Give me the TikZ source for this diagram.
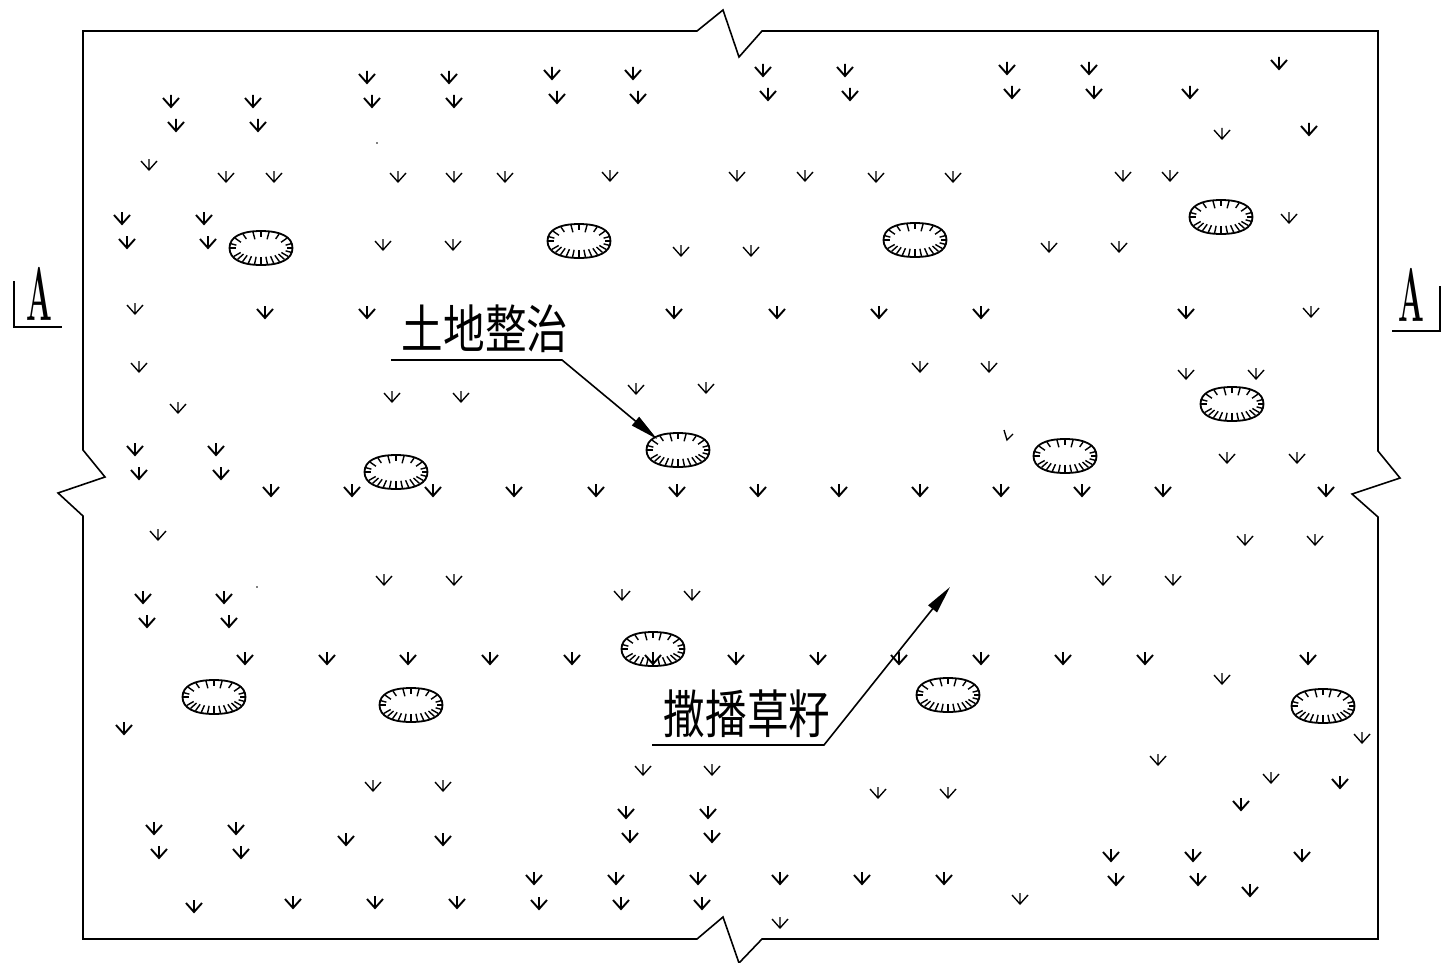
\documentclass[tikz,border=0pt]{standalone}
\usepackage{fontspec}
\newfontfamily\cjk[FakeStretch=0.8]{Noto Sans CJK SC}
\usetikzlibrary{arrows.meta}
\tikzset{
	line_main/.style = {
		draw=black,
		line width=1.6pt
	},
	seed_big/.pic = {
		\draw [line width=1.9pt] (0,-7) -- (0,5) (-8,-4) -- (0,5) -- (8,-4);
	},
	seed_small/.pic = {
		\draw [line width=1.35pt] (0,-6) -- (0,5) (-8,-4) -- (0,5) -- (8,-4);
	},
	pit/.pic = {
		\draw [line width=1.8pt] (-31.5,0) .. controls (-31.5,-11) and (-20,-17) .. (0,-17)
			.. controls (20,-17) and (31.5,-11) .. (31.5,0)
			.. controls (31.5,11) and (20,17) .. (0,17)
			.. controls (-20,17) and (-31.5,11) .. cycle;
		\foreach \a/\l in {-165/6,-145/7,-125/6,-105/8,-90/6,-75/8,-55/6,-35/7,-15/6,0/6,15/6,180/6}
			\draw [line width=1.4pt] ({31.5*cos(\a)},{17*sin(\a)}) -- ({(31.5-\l)*cos(\a)},{(17-\l)*sin(\a)});
		\foreach \a in {30,42,...,150}
			\draw [line width=1.4pt] ({31.5*cos(\a)},{17*sin(\a)}) -- ({(31.5-8)*cos(\a)},{(17-8)*sin(\a)});
	},
	label_cad/.style = {
		font=\cjk\fontsize{52}{52}\selectfont,
		inner sep=0pt,
		anchor=center
	},
	label_sec/.style = {
		font=\bfseries\fontsize{76}{76}\selectfont,
		inner sep=0pt,
		xscale=0.4,
		anchor=center
	},
	lead_arrow/.style = {
		line_main,
		-{Triangle[length=28pt,width=11pt]}
	},
}
\begin{document}
\begin{tikzpicture}[x=1pt,y=-1pt]
\useasboundingbox (0,0) rectangle (1445,963);

\draw [line_main] (83,31) -- (697,31) -- (723,10) -- (739,57) -- (762,31) -- (1378,31)
	-- (1378,451) -- (1400,478) -- (1352,494) -- (1378,517) -- (1378,939)
	-- (762,939) -- (739,963) -- (723,917) -- (697,939) -- (83,939)
	-- (83,516) -- (58,493) -- (105,477) -- (83,450) -- cycle;

\draw [line_main] (14,281) -- (14,327) -- (62,327);
\draw [line_main] (1440,286) -- (1440,331) -- (1392,331);
\node [label_sec] (sec_left) at (39,294) {A};
\node [label_sec] (sec_right) at (1411,295) {A};

\foreach \x/\y in {171/102,253/102,176/126,258/126,367/78,449/78,372/102,454/102,
	552/74,633/74,557/98,638/98,763/71,845/71,768/95,850/95,
	1007/69,1089/69,1012/93,1094/93,1279/64,1190/93,1309/130,
	122/219,204/219,127/243,208/243,
	265/313,367/313,674/313,777/313,879/313,981/313,1186/313,
	135/450,216/450,139/474,221/474,
	271/491,352/491,433/491,514/491,596/491,677/491,758/491,839/491,920/491,1001/491,1082/491,1163/491,1326/491,
	143/598,224/598,147/622,229/622,
	245/659,327/659,408/659,490/659,572/659,653/659,736/659,818/659,899/659,981/659,1063/659,1145/659,1308/659,
	124/729,1340/783,1241/805,626/813,708/813,630/837,712/837,
	154/829,236/829,159/853,241/853,346/840,443/840,
	1111/856,1193/856,1302/856,1116/880,1198/880,1250/891,
	534/879,616/879,698/879,780/879,862/879,944/879,
	539/904,621/904,702/904,293/903,375/903,457/903,194/907}
	\pic at (\x,\y) {seed_big};

\foreach \x/\y in {1222/134,149/165,226/177,274/177,398/177,454/177,505/177,610/176,737/176,805/176,876/177,953/177,1123/176,1170/176,
	383/245,453/245,681/251,751/251,1049/247,1119/247,1289/218,135/309,1311/312,
	139/367,920/367,989/367,1186/374,1256/374,636/389,706/388,392/397,461/397,178/408,
	1227/458,1297/458,158/535,1245/540,1315/540,384/580,454/580,1103/580,1173/580,622/595,692/595,
	1222/679,1362/738,1158/760,643/770,712/770,1271/778,373/786,443/786,878/793,948/793,
	1020/899,780/923}
	\pic at (\x,\y) {seed_small};

\draw [line width=1.35pt] (1004,430) -- (1007,440) -- (1013,434);
\fill (377,143) circle (0.9);
\fill (257,587) circle (0.9);

\foreach \x/\y in {261/248,579/241,915/240,1221/217,1232/404,1065/456,678/450,396/472,653/649,214/697,411/705,948/695,1323/706}
	\pic at (\x,\y) {pit};

\node [label_cad] (label_soil) at (485,329) {土地整治};
\node [label_cad] (label_sow) at (747,714) {撒播草籽};

\coordinate (lead_soil_a) at (391,360);
\coordinate (lead_soil_b) at (562,360);
\coordinate (lead_soil_c) at (657,439);
\coordinate (lead_sow_a) at (652,745);
\coordinate (lead_sow_b) at (824,745);
\coordinate (lead_sow_c) at (950,587);
\draw [lead_arrow] (lead_soil_a) -- (lead_soil_b) -- (lead_soil_c);
\draw [lead_arrow] (lead_sow_a) -- (lead_sow_b) -- (lead_sow_c);
\end{tikzpicture}
\end{document}
